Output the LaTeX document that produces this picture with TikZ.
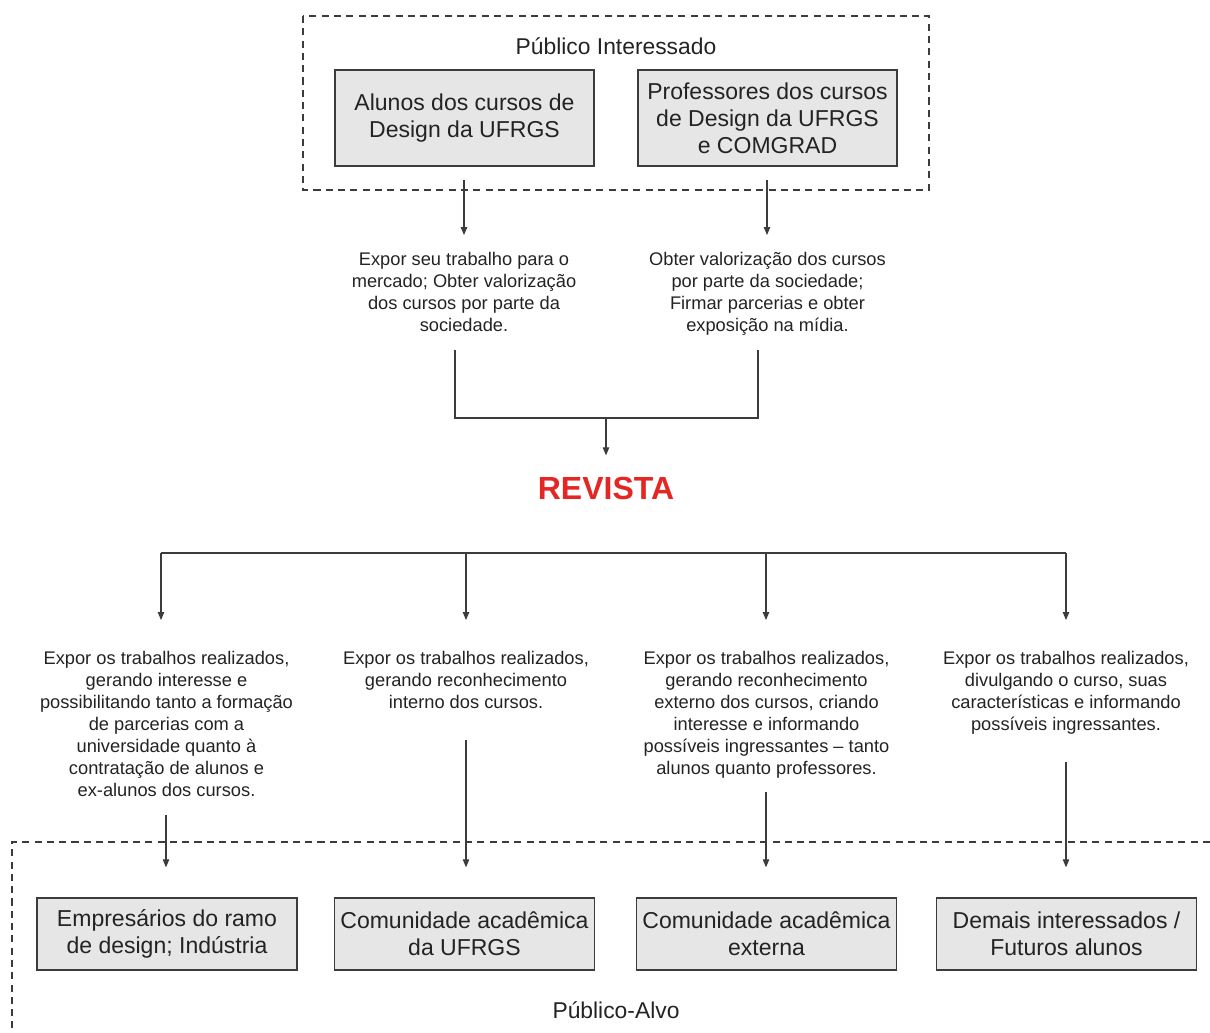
\documentclass[tikz,border=0pt]{standalone}
\usepackage{fontspec}
\setmainfont{Liberation Sans}
\usetikzlibrary{arrows.meta}

\definecolor{boxgray}{RGB}{230,230,230}
\definecolor{linegray}{RGB}{60,60,60}
\definecolor{textgray}{RGB}{35,35,35}
\definecolor{revred}{RGB}{228,38,36}

\tikzset{
 publico/.style={rectangle, draw=linegray, fill=boxgray, line width=0.8pt,
   minimum width=5.18cm, minimum height=1.92cm, inner sep=0pt, align=center,
   text=textgray, font=\fontsize{13.1pt}{15.3pt}\selectfont},
 alvo/.style={publico, minimum width=5.2cm, minimum height=1.44cm},
 motivo/.style={anchor=north, inner sep=0pt, align=center, text=textgray,
   font=\fontsize{10.4pt}{12.5pt}\selectfont},
 titulo/.style={inner sep=0pt, text=textgray, font=\fontsize{13pt}{15pt}\selectfont},
 seta/.style={draw=linegray, line width=0.6pt, -{Triangle[length=1.6mm,width=1.3mm]}},
 linha/.style={draw=linegray, line width=0.6pt},
 tracejado/.style={draw=linegray, line width=0.6pt, dash pattern=on 4pt off 3pt}
}

\begin{document}
\begin{tikzpicture}[x=0.02cm, y=-0.02cm]
 \useasboundingbox (0,0) rectangle (1210,1032);

 %publico interessado
 \draw [tracejado] (303,16) rectangle (929,190);
 \node [titulo] (pint) at (616,46) {Público Interessado};
 \node [publico] (alunos) at (464.5,118) {Alunos dos cursos de\\Design da UFRGS};
 \node [publico] (profs) at (767.5,118) {Professores dos cursos\\de Design da UFRGS\\e COMGRAD};

 %motivos do publico interessado
 \node [motivo] (malunos) at (464,252) {Expor seu trabalho para o\\mercado; Obter valorização\\dos cursos por parte da\\sociedade.};
 \node [motivo] (mprofs) at (767.5,252) {Obter valorização dos cursos\\por parte da sociedade;\\Firmar parcerias e obter\\exposição na mídia.};

 \coordinate (a1) at (464,180);
 \coordinate (a2) at (767,180);
 \draw [seta, shorten >=0.34cm] (a1) -- (malunos.north -| a1);
 \draw [seta, shorten >=0.34cm] (a2) -- (mprofs.north -| a2);

 %juncao para a revista
 \coordinate (j1) at (455,350);
 \coordinate (j2) at (758,350);
 \coordinate (jm) at (606,418);
 \node [inner sep=0pt, text=revred, font=\fontsize{18.2pt}{20pt}\selectfont\bfseries] (revista) at (606,488) {REVISTA};
 \draw [linha] (j1) |- (jm) -| (j2);
 \draw [seta, shorten >=0.42cm] (jm) -- (revista.north -| jm);

 %barramento para o publico-alvo
 \coordinate (d1) at (161,553);
 \coordinate (d2) at (466,553);
 \coordinate (d3) at (766,553);
 \coordinate (d4) at (1066,553);
 \draw [linha] (d1) -- (d4);

 %motivos do publico-alvo
 \node [motivo] (m1) at (166.5,651) {Expor os trabalhos realizados,\\gerando interesse e\\possibilitando tanto a formação\\de parcerias com a\\universidade quanto à\\contratação de alunos e\\ex-alunos dos cursos.};
 \node [motivo] (m2) at (466,651) {Expor os trabalhos realizados,\\gerando reconhecimento\\interno dos cursos.};
 \node [motivo] (m3) at (766.5,651) {Expor os trabalhos realizados,\\gerando reconhecimento\\externo dos cursos, criando\\interesse e informando\\possíveis ingressantes -- tanto\\alunos quanto professores.};
 \node [motivo] (m4) at (1066,651) {Expor os trabalhos realizados,\\divulgando o curso, suas\\características e informando\\possíveis ingressantes.};

 \draw [seta, shorten >=0.62cm] (d1) -- (m1.north -| d1);
 \draw [seta, shorten >=0.62cm] (d2) -- (m2.north -| d2);
 \draw [seta, shorten >=0.62cm] (d3) -- (m3.north -| d3);
 \draw [seta, shorten >=0.62cm] (d4) -- (m4.north -| d4);

 %publico-alvo
 \draw [tracejado] (1210,842) -- (12,842) -- (12,1032);
 \node [alvo] (empresarios) at (167,934) {Empresários do ramo\\de design; Indústria};
 \node [alvo] (ufrgs) at (464.5,934) {Comunidade acadêmica\\da UFRGS};
 \node [alvo] (externa) at (766.5,934) {Comunidade acadêmica\\externa};
 \node [alvo] (demais) at (1066.5,934) {Demais interessados /\\Futuros alunos};
 \node [titulo] (palvo) at (616,1010) {Público-Alvo};

 \coordinate (s1) at (166,815);
 \coordinate (s2) at (466,740);
 \coordinate (s3) at (766,792);
 \coordinate (s4) at (1066,762);
 \draw [seta, shorten >=0.6cm] (s1) -- (empresarios.north -| s1);
 \draw [seta, shorten >=0.6cm] (s2) -- (ufrgs.north -| s2);
 \draw [seta, shorten >=0.6cm] (s3) -- (externa.north -| s3);
 \draw [seta, shorten >=0.6cm] (s4) -- (demais.north -| s4);
\end{tikzpicture}
\end{document}
